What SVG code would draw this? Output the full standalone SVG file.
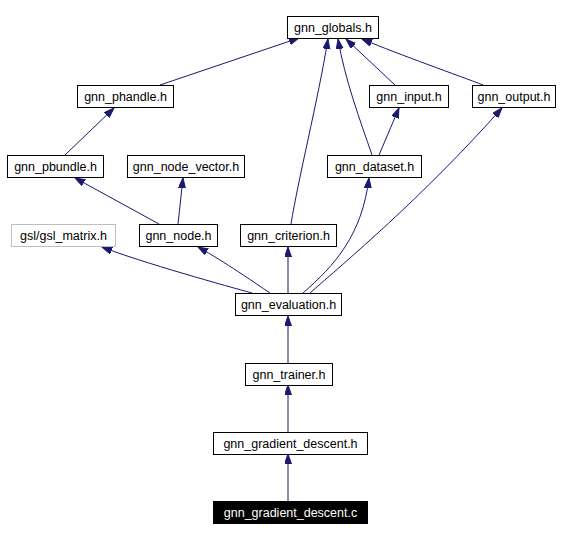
<svg xmlns="http://www.w3.org/2000/svg" width="561" height="540" viewBox="0 0 561 540">
<defs>
<marker id="ah" markerUnits="userSpaceOnUse" markerWidth="11" markerHeight="8" refX="10" refY="3.5" orient="auto">
<path d="M0,0 L10,3.5 L0,7 z" fill="#191970" stroke="#191970" stroke-width="1"/>
</marker>
</defs>
<style>
.n rect{fill:#ffffff;stroke:#000000;stroke-width:1}
.n text{font-family:"Liberation Sans",Arial,sans-serif;font-size:12.5px;text-anchor:middle;fill:#000000}
.g rect{stroke:#bfbfbf}
.c rect{fill:#000000}
.c text{fill:#ffffff}
.e path{fill:none;stroke:#191970;stroke-width:1;marker-end:url(#ah)}
</style>
<rect width="561" height="540" fill="#ffffff"/>
<g class="e" id="connectors">
<path d="M160,85 L299,38"/>
<path d="M395,85 L346,39"/>
<path d="M483,85 C460,76 400,55 362,39"/>
<path d="M291,224 C298,180 318,100 328,39"/>
<path d="M372,155 C360,120 345,80 338,39"/>
<path d="M379,155 L399,108"/>
<path d="M65,155 L114,108"/>
<path d="M159,224 L75,178"/>
<path d="M178,224 L183,178"/>
<path d="M252,293 C230,287 140,262 102,247"/>
<path d="M270,293 C255,283 225,262 198,247"/>
<path d="M288,293 L288,247"/>
<path d="M303,293 C335,265 362,235 369,178"/>
<path d="M310,293 C345,262 420,200 502,108"/>
<path d="M288,363 L288,316"/>
<path d="M288,432 L288,385"/>
<path d="M288,501 L288,454"/>
</g>
<g class="n" id="gnn_globals"><rect x="287.5" y="16.5" width="91" height="22"/><text x="333" y="32">gnn_globals.h</text></g>
<g class="n" id="gnn_phandle"><rect x="77.5" y="85.5" width="96" height="22"/><text x="125.5" y="101">gnn_phandle.h</text></g>
<g class="n" id="gnn_input"><rect x="369.5" y="85.5" width="79" height="22"/><text x="409" y="101">gnn_input.h</text></g>
<g class="n" id="gnn_output"><rect x="472.5" y="85.5" width="83" height="22"/><text x="514" y="101">gnn_output.h</text></g>
<g class="n" id="gnn_pbundle"><rect x="7.5" y="155.5" width="96" height="22"/><text x="55.5" y="171">gnn_pbundle.h</text></g>
<g class="n" id="gnn_node_vector"><rect x="127.5" y="155.5" width="117" height="22"/><text x="186" y="171">gnn_node_vector.h</text></g>
<g class="n" id="gnn_dataset"><rect x="327.5" y="155.5" width="94" height="22"/><text x="374.5" y="171">gnn_dataset.h</text></g>
<g class="n g" id="gsl_matrix"><rect x="11.5" y="224.5" width="104" height="22"/><text x="63.5" y="240">gsl/gsl_matrix.h</text></g>
<g class="n" id="gnn_node"><rect x="139.5" y="224.5" width="78" height="22"/><text x="178.5" y="240">gnn_node.h</text></g>
<g class="n" id="gnn_criterion"><rect x="240.5" y="224.5" width="96" height="22"/><text x="288.5" y="240">gnn_criterion.h</text></g>
<g class="n" id="gnn_evaluation"><rect x="235.5" y="293.5" width="106" height="22"/><text x="288.5" y="309">gnn_evaluation.h</text></g>
<g class="n" id="gnn_trainer"><rect x="245.5" y="363.5" width="87" height="22"/><text x="289" y="379">gnn_trainer.h</text></g>
<g class="n" id="gnn_gradient_descent_h"><rect x="213.5" y="432.5" width="154" height="22"/><text x="290.5" y="448">gnn_gradient_descent.h</text></g>
<g class="n c" id="gnn_gradient_descent_c"><rect x="213.5" y="501.5" width="154" height="22"/><text x="290.5" y="517">gnn_gradient_descent.c</text></g>
</svg>
